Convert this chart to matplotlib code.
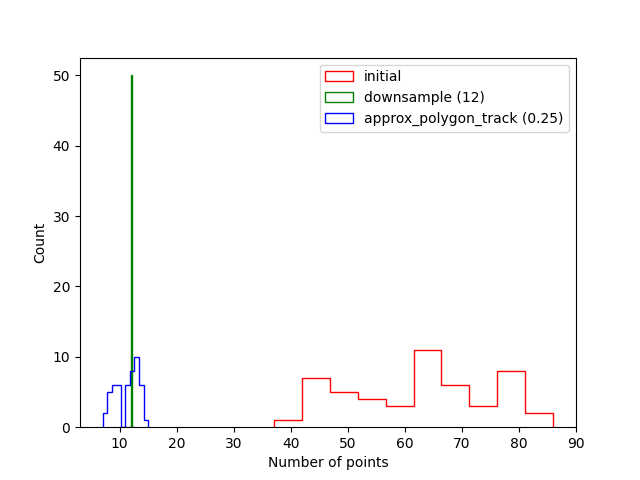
import numpy as np
import matplotlib
matplotlib.use('Agg')
import matplotlib.pyplot as plt

# histogram counts
initial_range = (37.0, 86.1)
initial_counts = [1, 7, 5, 4, 3, 11, 6, 3, 8, 2]

downsample_value = 12
downsample_n = 50

approx_range = (7.0, 15.0)
approx_counts = [2, 5, 6, 6, 0, 6, 8, 10, 6, 1]


def step_hist(ax, rng, counts, color, label):
    edges = np.linspace(rng[0], rng[1], len(counts) + 1)
    centers = 0.5 * (edges[:-1] + edges[1:])
    ax.hist(centers, bins=edges, weights=counts, histtype='step',
            color=color, label=label)


fig, ax = plt.subplots(figsize=(6.4, 4.8), dpi=100)
step_hist(ax, initial_range, initial_counts, 'r', 'initial')
ax.hist(np.full(downsample_n, downsample_value), histtype='step', color='g',
        label='downsample (12)')
step_hist(ax, approx_range, approx_counts, 'b', 'approx_polygon_track (0.25)')

ax.set_xlabel('Number of points')
ax.set_ylabel('Count')
ax.legend(loc='upper right')
fig.savefig('out.png')
